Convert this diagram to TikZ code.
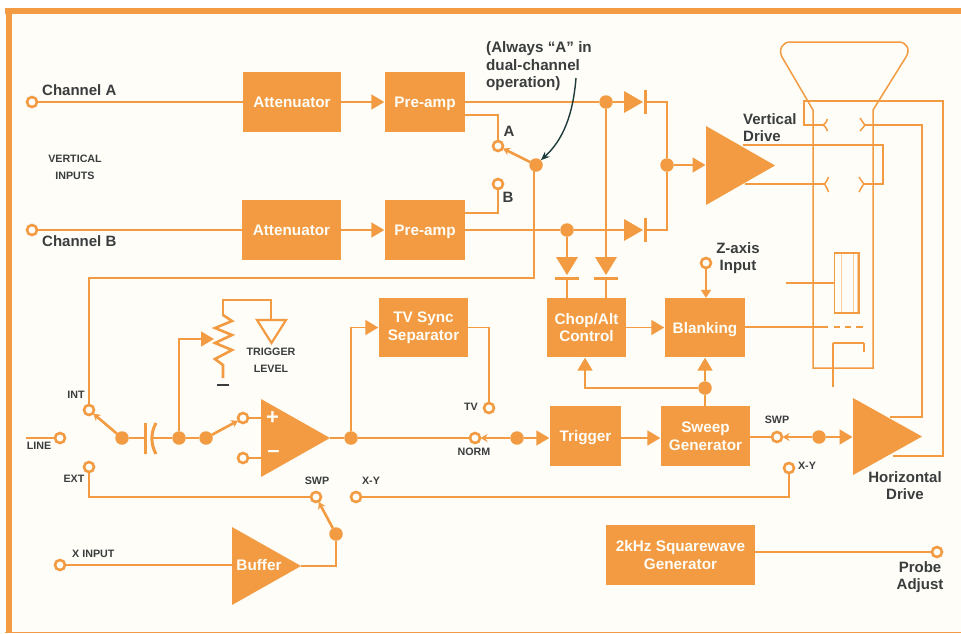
\documentclass[tikz,border=0pt]{standalone}
\usepackage{fontspec}
\setmainfont{Liberation Sans}
\usetikzlibrary{arrows.meta,shapes.geometric,calc}
\definecolor{org}{HTML}{F29B42}
\definecolor{paper}{HTML}{FEFDF7}
\definecolor{ink}{HTML}{3A3D3E}
\definecolor{pale}{HTML}{F8CFA0}
\tikzset{
 block/.style={fill=org,text=paper,inner sep=0,align=center,font=\bfseries\fontsize{15.3}{17.5}\selectfont},
 amp/.style={isosceles triangle,isosceles triangle stretches,shape border rotate=0,fill=org,inner sep=0,outer sep=0},
 term/.style={circle,draw=org,fill=paper,line width=2.6pt,minimum size=10pt,inner sep=0,outer sep=0.5pt},
 jdot/.style={circle,fill=org,minimum size=13.5pt,inner sep=0,outer sep=0},
 wire/.style={draw=org,line width=1.6pt},
 arr/.style={wire,-{Triangle[length=13pt,width=15pt]},shorten >=0.5pt},
 arrs/.style={wire,-{Triangle[length=8pt,width=10pt]}},
 sw/.style={draw=org,line width=2.6pt,-{Stealth[length=7pt,width=8pt]}},
 lab/.style={text=ink,inner sep=0,align=center,font=\bfseries\fontsize{15}{17}\selectfont},
 slab/.style={text=ink,inner sep=0,align=center,font=\bfseries\fontsize{10.7}{11}\selectfont},
}
\newcommand\hdiode[3]{\fill[org] (#2,{#3-11}) -- (#2,{#3+11}) -- ({#2+19},#3) -- cycle;
 \draw[org,line width=3pt] ({#2+21},{#3-12}) -- ({#2+21},{#3+12});
 \coordinate (#1in) at (#2,#3); \coordinate (#1out) at ({#2+21},#3);}
\newcommand\vdiode[3]{\fill[org] ({#2-11},#3) -- ({#2+11},#3) -- (#2,{#3+18}) -- cycle;
 \draw[org,line width=3pt] ({#2-12},{#3+21}) -- ({#2+12},{#3+21});
 \coordinate (#1in) at (#2,#3); \coordinate (#1out) at (#2,{#3+21});}
\begin{document}
\begin{tikzpicture}[x=1pt,y=-1pt]
\useasboundingbox (0,0) rectangle (961,633);
\fill[white] (0,0) rectangle (961,633);
\fill[paper] (5,8) rectangle (961,633);
\fill[org] (5,8) rectangle (961,14);
\fill[org] (6,8) rectangle (12,633);
\fill[org] (5,631.5) rectangle (961,633);
% blocks
\node[block,minimum width=98pt,minimum height=60pt] (attA) at (292,102) {Attenuator};
\node[block,text depth=0pt,minimum width=80pt,minimum height=60pt] (preA) at (425,102) {Pre-amp};
\node[block,minimum width=99pt,minimum height=60pt] (attB) at (291.5,230) {Attenuator};
\node[block,text depth=0pt,minimum width=80pt,minimum height=60pt] (preB) at (425,230) {Pre-amp};
\node[block,minimum width=89pt,minimum height=59pt] (tvs) at (423.5,327.5) {TV Sync\\Separator};
\node[block,minimum width=79pt,minimum height=59pt] (chop) at (586.5,327.5) {Chop/Alt\\Control};
\node[block,text depth=0pt,minimum width=80pt,minimum height=59pt] (blank) at (705,327.5) {Blanking};
\node[block,text depth=0pt,minimum width=71pt,minimum height=60pt] (trig) at (585.5,436) {Trigger};
\node[block,minimum width=89pt,minimum height=60pt] (sweep) at (705.5,436) {Sweep\\Generator};
\node[block,minimum width=149pt,minimum height=60pt] (gen) at (680.5,555) {2kHz Squarewave\\Generator};
% amplifiers
\node[amp,minimum width=79pt,minimum height=69pt,anchor=lower side] (vd) at (706,165.5) {};
\node[amp,minimum width=77pt,minimum height=69pt,anchor=lower side] (hd) at (853,436.5) {};
\node[amp,minimum width=78pt,minimum height=69pt,anchor=lower side] (cmp) at (261,438) {};
\node[amp,minimum width=78pt,minimum height=69pt,anchor=lower side] (buf) at (232,566) {};
\node[text=paper,inner sep=0,font=\bfseries\fontsize{15.3}{17}\selectfont] (bufT) at (259,565) {Buffer};
\node[text=paper,inner sep=0,font=\bfseries\fontsize{22}{22}\selectfont] (plusT) at (272.5,418) {+};
\node[text=paper,inner sep=0,font=\bfseries\fontsize{22}{22}\selectfont] (minusT) at (273.5,454) {–};
% terminals
\node[term] (chA) at (32,102) {};
\node[term] (chB) at (32,230) {};
\node[term] (tA) at (498,146) {};
\node[term] (tB) at (498,184) {};
\node[term] (zin) at (706,263) {};
\node[term] (int) at (89,410) {};
\node[term] (line) at (60,438) {};
\node[term] (ext) at (89,467) {};
\node[term] (tp) at (243,418) {};
\node[term] (tm) at (243,458) {};
\node[term] (swpL) at (316,497) {};
\node[term] (xyL) at (356,497) {};
\node[term] (xin) at (60,565) {};
\node[term] (tv) at (489,408) {};
\node[term] (norm) at (475,438) {};
\node[term] (swpR) at (777,437) {};
\node[term] (xyR) at (789,468) {};
\node[term] (probe) at (937,552) {};
% junction dots
\node[jdot] (dSel) at (536,165) {};
\node[jdot] (dPA) at (606,102) {};
\node[jdot] (dPB) at (567,230) {};
\node[jdot] (dSum) at (667,165) {};
\node[jdot] (dInt) at (122,438) {};
\node[jdot] (dLvl) at (179,438) {};
\node[jdot] (dSw) at (206,438) {};
\node[jdot] (dCmp) at (351,438) {};
\node[jdot] (dNorm) at (517,438) {};
\node[jdot] (dSweep) at (705,388) {};
\node[jdot] (dHor) at (819,437) {};
\node[jdot] (dBuf) at (336,534) {};
% diodes
\hdiode{dA}{624}{102}
\hdiode{dB}{624}{230}
\vdiode{dC}{567}{257}
\vdiode{dD}{606}{257}
% free coordinates
\coordinate (preAlow) at (465,115);
\coordinate (preBup) at (465,213);
\coordinate (selLow) at (534,278);
\coordinate (intUp) at (89,278);
\coordinate (lineEnd) at (26,438);
\coordinate (blankOut) at (745,327);
\coordinate (gunEnd) at (828,327);
% connectors: vertical path
\draw[wire] (chA) -- (attA);
\draw[arr] (attA) -- (preA);
\draw[wire] (chB) -- (attB);
\draw[arr] (attB) -- (preB);
\draw[wire] (preA) -- (dPA);
\draw[wire] (dPA) -- (dAin);
\draw[wire] (preB) -- (dPB);
\draw[wire] (dPB) -- (dBin);
\draw[wire] (preAlow) -| (tA);
\draw[wire] (preBup) -| (tB);
\draw[sw] (dSel) -- (tA);
\draw[wire] (dAout) -| (dSum);
\draw[wire] (dBout) -| (dSum);
\draw[arr] (dSum) -- (dSum -| vd.lower side);
\draw[wire] (dPA) -- (dDin);
\draw[wire] (dDout) -- (dDout |- chop.north);
\draw[wire] (dPB) -- (dCin);
\draw[wire] (dCout) -- (dCout |- chop.north);
\draw[wire] (534,171) -- (selLow) -- (intUp) -- (int);
% trigger path
\draw[wire] (lineEnd) -- (line);
\draw[sw] (dInt) -- (int);
\draw[wire] (dInt) -- (145,438);
\draw[wire] (152,438) -- (dLvl);
\draw[org,line width=3pt] (145,423) -- (145,454);
\draw[org,line width=3pt] (156,423) .. controls (150.5,433) and (150.5,444) .. (156,454);
\draw[wire] (dLvl) -- (dSw);
\draw[sw] (dSw) -- (tp);
\draw[wire] (tp) -- (tp -| cmp.lower side);
\draw[wire] (tm) -- (tm -| cmp.lower side);
\coordinate (wiper) at (214,339);
\draw[arr,shorten >=0pt] (dLvl) |- (wiper);
\coordinate (gndTop) at (271,320);
\draw[wire] (223,316) -- (223,300) -| (gndTop);
\draw[org,line width=2.6pt,line join=miter] (223,315) -- (232,321) -- (215,328) -- (232,335) -- (215,343) -- (232,350) -- (215,359) -- (223,365) -- (223,378);
\draw[org,line width=2.2pt,fill=paper] (257,320) -- (286,320) -- (271.5,343) -- cycle;
\draw[ink,line width=1.8pt] (217,385) -- (229,385);
\draw[wire] (cmp.apex) -- (dCmp);
\draw[wire] (dCmp) -- (norm);
\draw[arr] (dCmp) |- (tvs.west);
\draw[wire] (tvs.east) -| (tv);
\draw[sw] (dNorm) -- (norm);
\draw[arr] (dNorm) -- (trig.west |- dNorm);
\draw[arr] (trig.east |- dNorm) -- (sweep.west |- dNorm);
\draw[wire] (sweep.east |- swpR) -- (swpR);
\draw[sw] (dHor) -- (swpR);
\draw[arr] (dHor) -- (dHor -| hd.lower side);
\draw[wire] (sweep.north -| dSweep) -- (dSweep);
\draw[arr] (dSweep) -- (dSweep |- blank.south);
\draw[arr] (dSweep) -| (chop.south -| 585,0);
\draw[arr] (chop) -- (blank);
\draw[arrs] (zin) -- (zin |- blank.north);
% X input
\draw[wire] (ext) |- (swpL);
\draw[wire] (xyL) -- (789,497) -- (xyR);
\draw[wire] (xin) -- (xin -| buf.lower side);
\draw[wire] (buf.apex) -| (dBuf);
\draw[sw] (dBuf) -- (swpL);
\draw[wire] (gen.east |- probe) -- (probe);
% CRT
\draw[org,line width=1.5pt] (813,368) -- (813,110) -- (782,57) .. controls (778,49) and (783,42) .. (790,42) -- (899,42) .. controls (906,42) and (911,49) .. (906,57) -- (873,110) -- (873,368) -- cycle;
\draw[wire] (823,125) -- (804,125) -- (804,101) -- (943,101) -- (943,456) -- (893,456);
\draw[wire] (865,125) -- (922,125) -- (922,417) -- (890,417);
\draw[wire] (743,145) -- (883,145) -- (883,184) -- (864,184);
\draw[wire] (745,184) -- (824,184);
\draw[org,line width=1.5pt] (827.5,119) .. controls (826,123) and (824,125) .. (823,125) .. controls (824,125) and (826,127) .. (827.5,131);
\draw[org,line width=1.5pt] (860,118) .. controls (862,121) and (864,124) .. (865,125) .. controls (864,126) and (862,129) .. (860,131);
\draw[org,line width=1.5pt] (828.5,177) .. controls (827,181) and (825,184) .. (824,184) .. controls (825,184) and (827,188) .. (828.5,192);
\draw[org,line width=1.5pt] (859,177) .. controls (861,180) and (863,183) .. (864,184) .. controls (863,185) and (861,188) .. (859,192);
\draw[pale,line width=0.6pt] (841,253) -- (841,313) (853,253) -- (853,313) (857,253) -- (857,313);
\draw[org,line width=1.6pt] (834.5,253) rectangle (859,313);
\draw[wire] (786,283) -- (834,283);
\draw[wire] (blankOut) -- (gunEnd);
\draw[org,line width=1.6pt] (834,327) -- (840,327) (845,327) -- (851,327) (856,327) -- (863,327);
\draw[wire] (833,387) -- (833,343);
\draw[org,line width=2.4pt] (832.5,343) -- (864,343);
\draw[wire] (864,343) -- (864,352);
% labels
\node[lab,anchor=west] (lA) at (42,90) {Channel A};
\node[lab,anchor=west] (lB) at (42,241) {Channel B};
\node[slab] (lVI) at (75,167.5) {VERTICAL\\[6pt]INPUTS};
\node[lab,anchor=west,font=\bfseries\fontsize{15.2}{17.5}\selectfont,align=left] (lNote) at (486,66.5) {(Always ``A'' in\\dual-channel\\operation)};
\node[lab] (lSelA) at (509,131) {A};
\node[lab] (lSelB) at (508,197) {B};
\node[lab,anchor=west,align=left] (lVD) at (743,127.5) {Vertical\\Drive};
\node[lab] (lZ) at (738,258) {Z-axis\\Input};
\node[slab] (lTL) at (271,360.5) {TRIGGER\\[6pt]LEVEL};
\node[slab] (lInt) at (76,395) {INT};
\node[slab] (lLine) at (39,446) {LINE};
\node[slab] (lExt) at (74,479) {EXT};
\node[slab] (lSwpL) at (317,481) {SWP};
\node[slab] (lXyL) at (371,481) {X-Y};
\node[slab,anchor=west] (lXin) at (72,554) {X INPUT};
\node[slab] (lTv) at (471,407) {TV};
\node[slab] (lNorm) at (474,452) {NORM};
\node[slab] (lSwpR) at (777,420) {SWP};
\node[slab] (lXyR) at (807,466) {X-Y};
\node[lab] (lHD) at (905,486) {Horizontal\\Drive};
\node[lab] (lPA) at (920,577.5) {Probe\\Adjust};
% note arrow
\coordinate (noteStart) at (576,78);
\draw[draw={rgb,255:red,30;green,60;blue,60},line width=1.4pt,-{Stealth[length=9pt,width=7pt]}] (noteStart) .. controls (573,115) and (563,140) .. (dSel.north east);
\end{tikzpicture}
\end{document}
